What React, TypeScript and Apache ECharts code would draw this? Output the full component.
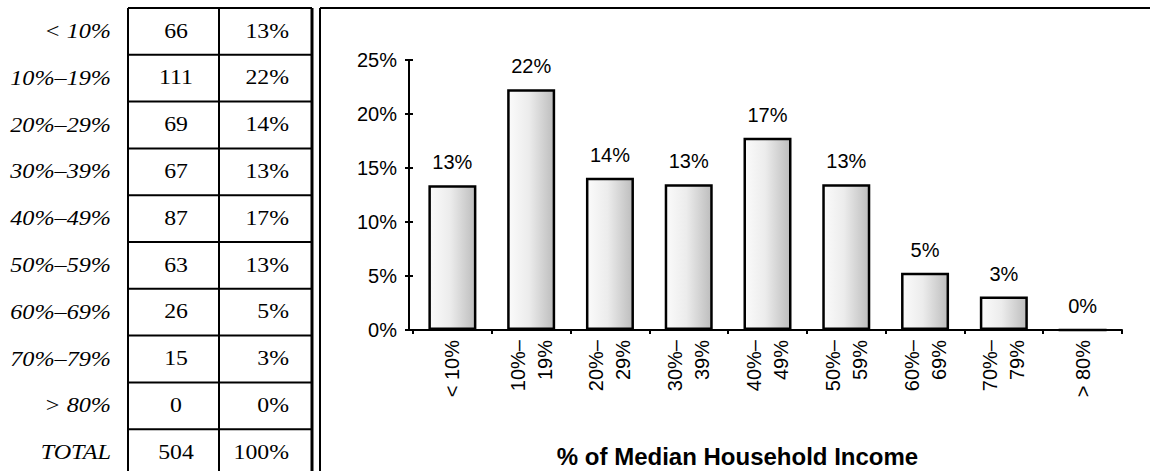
import React, { useEffect, useRef } from "react";
import * as echarts from "echarts";

// ---- data ----
const rowLabels = ["< 10%", "10%–19%", "20%–29%", "30%–39%", "40%–49%", "50%–59%", "60%–69%", "70%–79%", "> 80%"];
const counts = [66, 111, 69, 67, 87, 63, 26, 15, 0];
const percentLabels = ["13%", "22%", "14%", "13%", "17%", "13%", "5%", "3%", "0%"];
const totalLabel = "TOTAL";
const totalCount = 504;
const totalPercent = "100%";

const xAxisLabels = ["< 10%", "10%–\n19%", "20%–\n29%", "30%–\n39%", "40%–\n49%", "50%–\n59%", "60%–\n69%", "70%–\n79%", "> 80%"];
const barValues = [13.4, 22.3, 14.1, 13.5, 17.8, 13.5, 5.3, 3.1, 0];
const barLabels = ["13%", "22%", "14%", "13%", "17%", "13%", "5%", "3%", "0%"];
const axisTitle = "% of Median Household Income";

const SANS = "'Liberation Sans', Arial, Helvetica, sans-serif";
const SERIF = "'Liberation Serif', 'Times New Roman', serif";

function buildTable(): any[] {
  const els: any[] = [];
  const colL = 128, colM = 219, colR = 312;
  const top = 8;
  const rowH = 46.8;
  const bottom = 471;
  const lineStyle = { stroke: "#000", lineWidth: 2 };
  [colL, colM].forEach((x) =>
    els.push({ type: "line", shape: { x1: x, y1: top, x2: x, y2: bottom }, style: lineStyle, silent: true })
  );
  els.push({ type: "line", shape: { x1: colR, y1: top, x2: colR, y2: bottom }, style: { stroke: "#000", lineWidth: 3 }, silent: true });
  for (let i = 0; i <= rowLabels.length; i++) {
    const y = top + i * rowH;
    els.push({ type: "line", shape: { x1: colL, y1: y, x2: colR, y2: y }, style: lineStyle, silent: true });
  }
  const rows = rowLabels.map((l, i) => ({ label: l, count: String(counts[i]), pct: percentLabels[i] }));
  rows.push({ label: totalLabel, count: String(totalCount), pct: totalPercent });
  rows.forEach((r, i) => {
    const cy = top + i * rowH + rowH / 2 - 1;
    els.push({
      type: "text", x: 111, y: cy, scaleX: 1.1, silent: true,
      style: { text: r.label, fill: "#000", font: `italic 22px ${SERIF}`, align: "right", verticalAlign: "middle" },
    });
    els.push({
      type: "text", x: 176, y: cy, scaleX: 1.08, silent: true,
      style: { text: r.count, fill: "#000", font: `22px ${SERIF}`, align: "center", verticalAlign: "middle" },
    });
    els.push({
      type: "text", x: 289, y: cy, scaleX: 1.08, silent: true,
      style: { text: r.pct, fill: "#000", font: `22px ${SERIF}`, align: "right", verticalAlign: "middle" },
    });
  });
  els.push({ type: "line", shape: { x1: 320, y1: top, x2: 320, y2: bottom }, style: lineStyle, silent: true });
  els.push({ type: "line", shape: { x1: 320, y1: top, x2: 1150, y2: top }, style: lineStyle, silent: true });
  return els;
}

export default function App() {
  const ref = useRef<HTMLDivElement>(null);
  useEffect(() => {
    if (!ref.current) return;
    const chart = echarts.init(ref.current, null, { renderer: "svg" });
    const fill = {
      type: "linear", x: 0, y: 0, x2: 1, y2: 0,
      colorStops: [
        { offset: 0, color: "#fbfbfb" },
        { offset: 0.45, color: "#ececec" },
        { offset: 1, color: "#bdbdbd" },
      ],
    };
    chart.setOption({
      animation: false,
      backgroundColor: "#fff",
      textStyle: { fontFamily: SANS, color: "#000" },
      grid: { left: 413, top: 60, width: 709, height: 270, containLabel: false, outerBoundsMode: "none" },
      xAxis: {
        type: "category",
        data: xAxisLabels,
        axisLine: { show: true, lineStyle: { color: "#000", width: 2 } },
        axisTick: { show: true, length: 4, lineStyle: { color: "#000", width: 2 } },
        axisLabel: { rotate: 90, fontSize: 20, lineHeight: 27, margin: 10, color: "#000", fontFamily: SANS, interval: 0 },
        name: axisTitle,
        nameLocation: "middle",
        nameGap: 114,
        nameTextStyle: { fontSize: 24, fontWeight: "bold", color: "#000", fontFamily: SANS, padding: [0, 60, 0, 0] },
      },
      yAxis: [
        {
          type: "value", min: 0, max: 25, interval: 5, offset: 4,
          axisLine: { show: true, lineStyle: { color: "#000", width: 2 } },
          axisTick: { show: true, length: 4, lineStyle: { color: "#000", width: 2 } },
          axisLabel: { formatter: "{value}%", fontSize: 20, margin: 12, color: "#000", fontFamily: SANS },
          splitLine: { show: false },
        },
        {
          type: "value", min: 0, max: 25, interval: 5, offset: 4, position: "left",
          axisLine: { show: false },
          axisTick: { show: true, inside: true, length: 4, lineStyle: { color: "#000", width: 2 } },
          axisLabel: { show: false },
          splitLine: { show: false },
        },
      ],
      series: [
        {
          type: "bar",
          data: barValues,
          barWidth: 48,
          yAxisIndex: 0,
          itemStyle: { color: fill, borderColor: "#000", borderWidth: 2.5 },
          label: {
            show: true, position: "top", distance: 13, fontSize: 20, color: "#000", fontFamily: SANS,
            formatter: (p: any) => barLabels[p.dataIndex],
          },
        },
      ],
      graphic: buildTable(),
    });
    return () => chart.dispose();
  }, []);
  return <div ref={ref} style={{ position: "absolute", left: 0, top: 0, width: 1150, height: 471, background: "#fff" }} />;
}
